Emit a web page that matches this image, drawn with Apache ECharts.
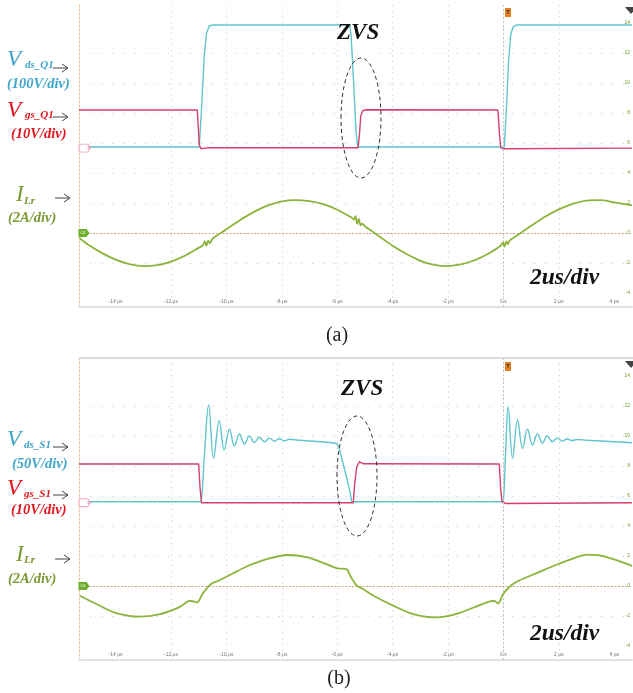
<!DOCTYPE html>
<html>
<head>
<meta charset="utf-8">
<script src="https://cdn.jsdelivr.net/npm/echarts@6/dist/echarts.min.js"></script>
<style>
  html, body { margin: 0; padding: 0; background: #fff; }
  #main { width: 633px; height: 693px; }
</style>
</head>
<body>
<div id="main"></div>
<script>
// time axis (us) and scope divisions
var timeTicks = [-14, -12, -10, -8, -6, -4, -2, 0, 2, 4];
var divTicks = [-4, -2, 0, 2, 4, 6, 8, 10, 12, 14];

// (a) Q1 waveforms, [us, div value]
var vdsQ1 = [
	[-15.32, 5.73], [-10.98, 5.73], [-10.9, 8.2], [-10.8, 11.8], [-10.72, 13.3], [-10.62, 13.8], [-10.5, 13.87],
	[-5.55, 13.87], [-5.5, 13.2], [-5.45, 11.5], [-5.38, 9.0], [-5.32, 6.8], [-5.27, 5.9], [-5.22, 5.73],
	[0.03, 5.73], [0.1, 8.0], [0.18, 11.3], [0.26, 13.2], [0.35, 13.75], [0.48, 13.87], [4.64, 13.87]
];
var vgsQ1 = [
	[-15.32, 8.2], [-11.05, 8.2], [-10.98, 5.9], [-10.92, 5.62], [-10.7, 5.68], [-5.25, 5.68], [-5.2, 6.5],
	[-5.15, 7.8], [-5.08, 8.15], [-4.95, 8.22], [-0.2, 8.2], [-0.14, 6.5], [-0.1, 5.7], [-0.02, 5.62], [4.64, 5.66]
];
var ilrA = [
	[-15.3, -0.35], [-15.0, -0.76], [-14.5, -1.32], [-14.0, -1.77], [-13.5, -2.07], [-13.0, -2.2], [-12.5, -2.14],
	[-12.0, -1.9], [-11.5, -1.51], [-11.0, -0.99], [-10.85, -0.82], [-10.78, -0.55], [-10.72, -0.85], [-10.66, -0.5],
	[-10.6, -0.68], [-10.5, -0.38], [-10.0, 0.25], [-9.5, 0.87], [-9.0, 1.41], [-8.5, 1.84], [-8.0, 2.11], [-7.5, 2.2],
	[-7.0, 2.12], [-6.5, 1.92], [-6.0, 1.55], [-5.5, 1.05], [-5.4, 0.9], [-5.34, 1.12], [-5.28, 0.62], [-5.22, 0.95],
	[-5.16, 0.52], [-5.1, 0.62], [-5.0, 0.45], [-4.5, -0.2], [-4.0, -0.85], [-3.5, -1.4], [-3.0, -1.85], [-2.5, -2.12],
	[-2.0, -2.2], [-1.5, -2.08], [-1.0, -1.78], [-0.5, -1.33], [-0.1, -0.85], [-0.02, -0.62], [0.04, -0.9], [0.1, -0.55],
	[0.16, -0.75], [0.22, -0.5], [0.5, -0.15], [1.0, 0.48], [1.5, 1.08], [2.0, 1.58], [2.5, 1.95], [3.0, 2.16],
	[3.5, 2.19], [4.0, 2.05], [4.64, 1.85]
];

// (b) S1 waveforms
var vdsS1 = [
	[-15.32, 5.62], [-10.95, 5.62], [-10.9, 5.7], [-10.8, 8.5], [-10.64, 12.07], [-10.46, 8.51], [-10.26, 11.02],
	[-10.08, 9.07], [-9.89, 10.45], [-9.71, 9.33], [-9.53, 10.13], [-9.35, 9.47], [-9.17, 10.0], [-8.99, 9.56],
	[-8.81, 9.92], [-8.63, 9.62], [-8.45, 9.86], [-8.27, 9.66], [-8.09, 9.82], [-7.91, 9.68], [-7.73, 9.78],
	[-7.4, 9.72], [-6.5, 9.6], [-6.05, 9.5], [-5.95, 9.3], [-5.85, 8.6], [-5.76, 7.95], [-5.67, 7.3], [-5.58, 6.62],
	[-5.5, 5.9], [-5.46, 5.62], [-0.05, 5.62], [0.0, 5.7], [0.08, 9.0], [0.17, 11.95], [0.33, 8.51], [0.51, 11.07],
	[0.69, 9.18], [0.87, 10.45], [1.05, 9.4], [1.23, 10.13], [1.41, 9.53], [1.58, 10.0], [1.76, 9.62], [1.94, 9.86],
	[2.12, 9.66], [2.3, 9.8], [2.48, 9.7], [2.66, 9.77], [3.0, 9.72], [4.0, 9.62], [4.64, 9.55]
];
var vgsS1 = [
	[-15.32, 8.13], [-11.0, 8.13], [-10.95, 6.5], [-10.9, 5.55], [-5.42, 5.55], [-5.37, 6.8], [-5.3, 7.9],
	[-5.2, 8.29], [-5.05, 8.15], [-0.15, 8.13], [-0.1, 6.5], [-0.05, 5.6], [0.1, 5.5], [4.64, 5.55]
];
var ilrB = [
	[-15.29, -0.65], [-14.57, -1.31], [-13.98, -1.8], [-13.14, -2.04], [-12.43, -1.89], [-11.71, -1.42], [-11.3, -0.98],
	[-11.06, -1.09], [-10.86, -0.53], [-10.64, 0.0], [-10.46, 0.24], [-10.29, 0.35], [-9.81, 0.8], [-9.21, 1.35],
	[-8.62, 1.75], [-7.79, 2.07], [-7.07, 1.91], [-6.48, 1.53], [-6.0, 1.18], [-5.67, 1.13], [-5.52, 0.65],
	[-5.29, 0.02], [-5.11, -0.15], [-4.69, -0.65], [-3.98, -1.31], [-3.26, -1.87], [-2.43, -2.09], [-1.6, -1.8],
	[-0.76, -1.2], [-0.35, -0.98], [-0.19, -1.15], [-0.01, -0.53], [0.25, 0.0], [0.55, 0.35], [1.26, 0.91],
	[1.98, 1.47], [2.45, 1.8], [3.05, 2.09], [3.64, 1.98], [4.64, 1.35]
];

var X_MIN = -15.32, X_MAX = 4.64;
var Y_MIN = -4.93, Y_MAX = 15.2;

var CYAN = '#5ec5cc', RED = '#d63f68', GREEN = '#8cb33b';
var CYAN_TXT = '#3fa6cb', RED_TXT = '#e3161f', GREEN_TXT = '#7b9a36';
var SERIF = '"Liberation Serif", "Times New Roman", serif';

function xAxisFor(i) {
	return {
		type: 'value', gridIndex: i, min: X_MIN, max: X_MAX,
		axisLine: { show: true, onZero: false, lineStyle: { color: '#e2e2e2', width: 2 } },
		axisTick: { show: false, customValues: timeTicks },
		axisLabel: {
			inside: true, margin: 3, fontSize: 5, color: '#777', customValues: timeTicks,
			formatter: function(v) { return v === 0 ? '0 s' : v + ' µs'; }
		},
		splitLine: {
			show: true, showMinLine: false, showMaxLine: false,
			lineStyle: { color: '#cfcfcf', type: [1.2, 4.4], width: 1 }
		}
	};
}

function yAxesFor(i) {
	return [{
		type: 'value', gridIndex: i, position: 'right', min: Y_MIN, max: Y_MAX,
		axisLine: { show: false },
		axisTick: { show: false, customValues: divTicks },
		axisLabel: { inside: true, margin: 2, fontSize: 5, color: '#6f9a2a', customValues: divTicks },
		splitLine: {
			show: true, showMinLine: false, showMaxLine: false,
			lineStyle: { color: '#cfcfcf', type: [1.2, 9.9], width: 1 }
		}
	}, {
		//左边橙色虚线
		type: 'value', gridIndex: i, position: 'left', min: Y_MIN, max: Y_MAX,
		axisLine: { show: true, lineStyle: { color: '#efc29a', type: [2, 2], width: 1.2 } },
		axisTick: { show: false }, axisLabel: { show: false }, splitLine: { show: false }
	}];
}

function tagC1(y) {
	return {
		symbol: 'roundRect', symbolSize: [10, 8], symbolOffset: [5, 0],
		itemStyle: { color: '#fff', borderColor: '#f0a3ba', borderWidth: 1 },
		label: { show: true, formatter: 'C1', fontSize: 4, color: '#e07a98', offset: [5, 0] },
		data: [{ coord: [X_MIN, y] }]
	};
}

function panelSeries(i, vds, vgs, ilr, low, smoothVds) {
	return [{
		type: 'line', xAxisIndex: i, yAxisIndex: i * 2, data: vds, showSymbol: false, symbol: 'none',
		smooth: smoothVds, lineStyle: { color: CYAN, width: 1.4 }, z: 3
	}, {
		type: 'line', xAxisIndex: i, yAxisIndex: i * 2, data: vgs, showSymbol: false, symbol: 'none',
		lineStyle: { color: RED, width: 1.4 }, z: 4,
		markPoint: tagC1(low),
		markLine: {
			silent: true, symbol: 'none', label: { show: false },
			lineStyle: { color: '#c4c4c4', type: [2, 2], width: 1 },
			data: [{ xAxis: 0 }]
		}
	}, {
		type: 'line', xAxisIndex: i, yAxisIndex: i * 2, data: ilr, showSymbol: false, symbol: 'none',
		smooth: 0.3, lineStyle: { color: GREEN, width: 1.8 }, z: 5,
		markLine: {
			silent: true, symbol: 'none', label: { show: false },
			lineStyle: { color: '#cda57f', type: [2, 1.5], width: 1.2 },
			data: [{ yAxis: 0 }]
		},
		markPoint: {
			symbol: 'path://M0,0 L8,0 L11,4 L8,8 L0,8 Z', symbolSize: [11, 8], symbolOffset: [5, 0],
			itemStyle: { color: '#6fae2c' },
			label: { show: true, formatter: 'C4', fontSize: 4, color: '#fff', offset: [-1, 0] },
			data: [{ coord: [X_MIN, 0] }]
		}
	}];
}

function txt(x, y, s, font, color) {
	return { type: 'text', x: x, y: y, z: 100, style: { text: s, font: font, fill: color, verticalAlign: 'top' } };
}

function arrow(x1, x2, y) {
	return {
		type: 'group', z: 100,
		children: [
			{ type: 'line', shape: { x1: x1, y1: y, x2: x2, y2: y }, style: { stroke: '#444', lineWidth: 1 } },
			{ type: 'polyline', shape: { points: [[x2 - 6, y - 4], [x2, y], [x2 - 6, y + 4]] }, style: { stroke: '#444', lineWidth: 1, fill: null } }
		]
	};
}

function ellipse(cx, cy) {
	return {
		type: 'ellipse', z: 100, shape: { cx: cx, cy: cy, rx: 20, ry: 60 },
		style: { stroke: '#333', fill: null, lineWidth: 1, lineDash: [4, 3] }
	};
}

function trigger(y) {
	return [
		{ type: 'rect', z: 100, shape: { x: 505, y: y, width: 6, height: 9 }, style: { fill: '#e8801e' } },
		{ type: 'text', z: 101, x: 508, y: y + 1.5, style: { text: 'T', font: 'bold 6px sans-serif', fill: '#333', align: 'center', verticalAlign: 'top' } },
		{ type: 'polygon', z: 100, shape: { points: [[625, y - 1], [637, y - 1], [631, y + 6]] }, style: { fill: '#444' } }
	];
}

var big = 'italic 23px ' + SERIF;
var sub = 'italic bold 11px ' + SERIF;
var note = 'italic bold 14.5px ' + SERIF;
var mark = 'italic bold 23px ' + SERIF;
var scale = 'italic bold 23.5px ' + SERIF;

var graphics = [
	// (a)
	txt(7, 48, 'V', big, CYAN_TXT), txt(25, 60, 'ds_Q1', sub, CYAN_TXT), arrow(53, 68, 68),
	txt(7, 77, '(100V/div)', note, CYAN_TXT),
	txt(7, 99, 'V', big, RED_TXT), txt(25, 110, 'gs_Q1', sub, RED_TXT), arrow(53, 68, 117),
	txt(11, 127, '(10V/div)', note, RED_TXT),
	txt(16, 183, 'I', big, GREEN_TXT), txt(24, 196, 'Lr', sub, GREEN_TXT), arrow(55, 70, 198),
	txt(8, 211, '(2A/div)', note, GREEN_TXT),
	txt(337, 22, 'ZVS', mark, '#111'),
	txt(530, 266, '2us/div', scale, '#111'),
	ellipse(361, 118),
	{ type: 'text', z: 100, x: 337, y: 336, style: { text: '(a)', font: '20px ' + SERIF, fill: '#222', align: 'center', verticalAlign: 'middle' } },
	// (b)
	{ type: 'rect', z: 100, shape: { x: 79, y: 357, width: 560, height: 2 }, style: { fill: '#dcdcdc' } },
	txt(7, 428, 'V', big, CYAN_TXT), txt(24, 440, 'ds_S1', sub, CYAN_TXT), arrow(53, 68, 447),
	txt(12, 457, '(50V/div)', note, CYAN_TXT),
	txt(7, 477, 'V', big, RED_TXT), txt(24, 489, 'gs_S1', sub, RED_TXT), arrow(53, 68, 495),
	txt(11, 503, '(10V/div)', note, RED_TXT),
	txt(16, 543, 'I', big, GREEN_TXT), txt(24, 555, 'Lr', sub, GREEN_TXT), arrow(55, 70, 559),
	txt(8, 572, '(2A/div)', note, GREEN_TXT),
	txt(341, 378, 'ZVS', mark, '#111'),
	txt(530, 622, '2us/div', scale, '#111'),
	ellipse(357, 476),
	{ type: 'text', z: 100, x: 339, y: 679, style: { text: '(b)', font: '20px ' + SERIF, fill: '#222', align: 'center', verticalAlign: 'middle' } }
].concat(trigger(8)).concat(trigger(362));

var chart = echarts.init(document.getElementById('main'), null, { renderer: 'canvas' });
chart.setOption({
	backgroundColor: '#fff',
	animation: false,
	grid: [
		{ left: 79, right: -5, top: 5, height: 302 },
		{ left: 79, right: -5, top: 358, height: 302 }
	],
	xAxis: [xAxisFor(0), xAxisFor(1)],
	yAxis: yAxesFor(0).concat(yAxesFor(1)),
	series: panelSeries(0, vdsQ1, vgsQ1, ilrA, 5.66, false).concat(panelSeries(1, vdsS1, vgsS1, ilrB, 5.55, 0.4)),
	graphic: graphics
});
</script>
</body>
</html>
